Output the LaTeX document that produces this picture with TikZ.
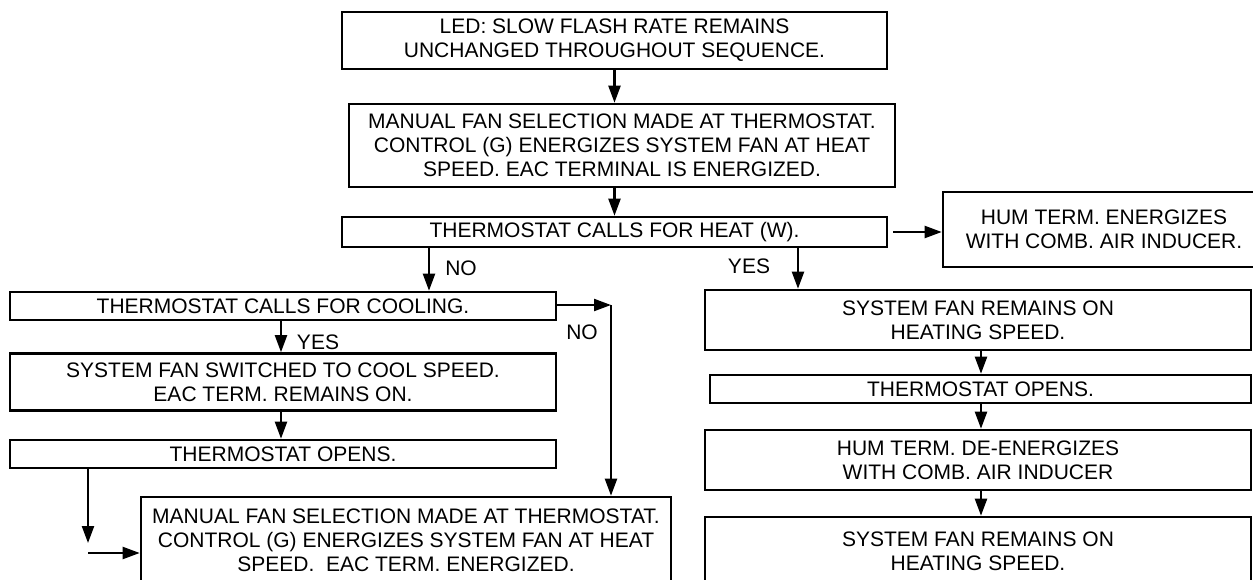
\documentclass[tikz,border=0pt]{standalone}
\usepackage{fontspec}
\setmainfont{Liberation Sans}
\usepackage{tikz}
\usetikzlibrary{arrows.meta}

\begin{document}
\begin{tikzpicture}[x=1pt, y=-1pt,
      font=\fontsize{21}{24}\selectfont,
      box/.style={draw, line width=2.6pt, align=center, inner sep=0pt},
      arr/.style={line width=2.2pt, -{Triangle[length=17pt,width=12pt]}},
      lbl/.style={inner sep=0pt}
  ]
    \useasboundingbox (0,0) rectangle (1253,579);
    \clip (0,0) rectangle (1253,579);
    % main column
    \node[box, minimum width=545pt, minimum height=57pt] (led)  at (614.5,40.5)
          {LED: SLOW FLASH RATE REMAINS\\UNCHANGED THROUGHOUT SEQUENCE.};
    \node[box, minimum width=546pt, minimum height=83pt] (man)  at (622,145.5)
          {MANUAL FAN SELECTION MADE AT THERMOSTAT.\\CONTROL (G) ENERGIZES SYSTEM FAN AT HEAT\\SPEED. EAC TERMINAL IS ENERGIZED.};
    \node[box, minimum width=545pt, minimum height=30pt] (heat) at (614.5,232)
          {THERMOSTAT CALLS FOR HEAT (W).};
    \node[box, minimum width=322pt, minimum height=75pt] (hum)  at (1104,229.5)
          {HUM TERM. ENERGIZES\\WITH COMB. AIR INDUCER.};
    % cooling branch
    \node[box, minimum width=546pt, minimum height=28pt] (cool)  at (283,306)
          {THERMOSTAT CALLS FOR COOLING.};
    \node[box, minimum width=546pt, minimum height=57pt] (sw)    at (283,382)
          {SYSTEM FAN SWITCHED TO COOL SPEED.\\EAC TERM. REMAINS ON.};
    \node[box, minimum width=546pt, minimum height=28pt] (openl) at (283,454)
          {THERMOSTAT OPENS.};
    \node[box, minimum width=530pt, minimum height=87pt] (manb)  at (406,540.5)
          {MANUAL FAN SELECTION MADE AT THERMOSTAT.\\CONTROL (G) ENERGIZES SYSTEM FAN AT HEAT\\SPEED.~~EAC TERM. ENERGIZED.};
    % heating branch
    \node[box, minimum width=546pt, minimum height=60pt] (on1)   at (978,320)
          {SYSTEM FAN REMAINS ON\\HEATING SPEED.};
    \node[box, minimum width=541pt, minimum height=28pt] (openr) at (980.5,389)
          {THERMOSTAT OPENS.};
    \node[box, minimum width=546pt, minimum height=60pt] (humde) at (978,460)
          {HUM TERM. DE-ENERGIZES\\WITH COMB. AIR INDUCER};
    \node[box, minimum width=546pt, minimum height=68pt] (on2)   at (978,551)
          {SYSTEM FAN REMAINS ON\\HEATING SPEED.};
    % labels
    \node[lbl] (no1)  at (461,268) {NO};
    \node[lbl] (yes1) at (749,266) {YES};
    \node[lbl] (no2)  at (582,332) {NO};
    \node[lbl] (yes2) at (318,342) {YES};
    % helper coordinates
    \coordinate (nox)   at (429,0);
    \coordinate (yesx)  at (798,0);
    \coordinate (coolx) at (281,0);
    \coordinate (colx)  at (981,0);
    \coordinate (bend)  at (611,305);
    \coordinate (elbow) at (88,553);
    % connectors
    \draw[arr] (led.south) -- (led.south |- man.north);
    \draw[arr] (man.south -| led.south) -- (heat.north);
    \draw[arr] ([xshift=5pt]heat.east) -- (heat.east -| hum.west);
    \draw[arr] (heat.south -| nox) -- (cool.north -| nox);
    \draw[arr] (heat.south -| yesx) -- (on1.north -| yesx);
    \draw[arr] (cool.east |- bend) -- (bend);
    \draw[arr] (bend) -- (bend |- manb.north);
    \draw[arr] (cool.south -| coolx) -- (sw.north -| coolx);
    \draw[arr] (sw.south -| coolx) -- (openl.north -| coolx);
    \draw[arr] (openl.south -| elbow) -- ([yshift=10pt]elbow);
    \draw[arr] (elbow) -- (elbow -| manb.west);
    \foreach \a/\b in {on1/openr, openr/humde, humde/on2}
      \draw[arr] (\a.south -| colx) -- (\b.north -| colx);
\end{tikzpicture}
\end{document}
